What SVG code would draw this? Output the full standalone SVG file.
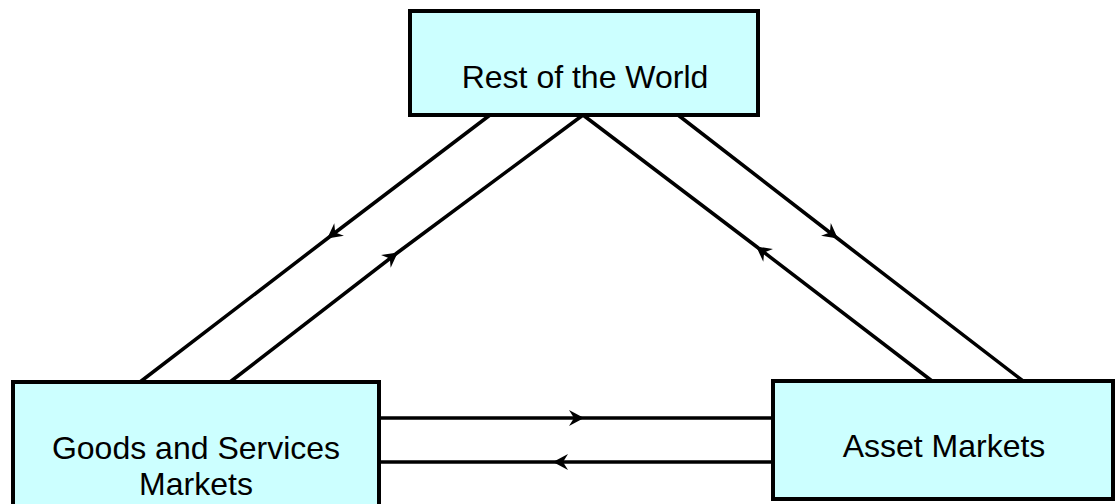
<svg xmlns="http://www.w3.org/2000/svg" width="1116" height="504" viewBox="0 0 1116 504">
<style>
.box{fill:#ccffff;stroke:#000;stroke-width:4}
.lbl{font-family:"Liberation Sans",Arial,sans-serif;font-size:32px;fill:#000;text-anchor:middle}
.con{fill:none;stroke:#000;stroke-width:3.5;marker-mid:url(#ah)}
</style>
<defs>
<marker id="ah" markerUnits="userSpaceOnUse" viewBox="-16 -9 18 18" markerWidth="18" markerHeight="18" refX="0" refY="0" orient="auto">
<path d="M1,0 L-14,-8 L-9,0 L-14,8 Z" fill="#000"/>
</marker>
</defs>
<rect width="1116" height="504" fill="#fff"/>
<g id="connectors">
<path class="con" d="M490,115 L328,238 L140,382"/>
<path class="con" d="M230,382 L397,253 L583,115"/>
<path class="con" d="M932,381 L757,247 L583,115"/>
<path class="con" d="M678,115 L837,238 L1023,381"/>
<path class="con" d="M379,418 L583,418 L773,418"/>
<path class="con" d="M773,462 L554,462 L379,462"/>
</g>
<g id="rest-of-world">
<rect class="box" x="410" y="11" width="348" height="104"/>
<text class="lbl" x="585" y="88">Rest of the World</text>
</g>
<g id="goods-services">
<rect class="box" x="13" y="382" width="366" height="130"/>
<text class="lbl" x="196" y="459">Goods and Services</text>
<text class="lbl" x="196" y="495">Markets</text>
</g>
<g id="asset-markets">
<rect class="box" x="773" y="381" width="340" height="118"/>
<text class="lbl" x="944" y="457">Asset Markets</text>
</g>
</svg>
